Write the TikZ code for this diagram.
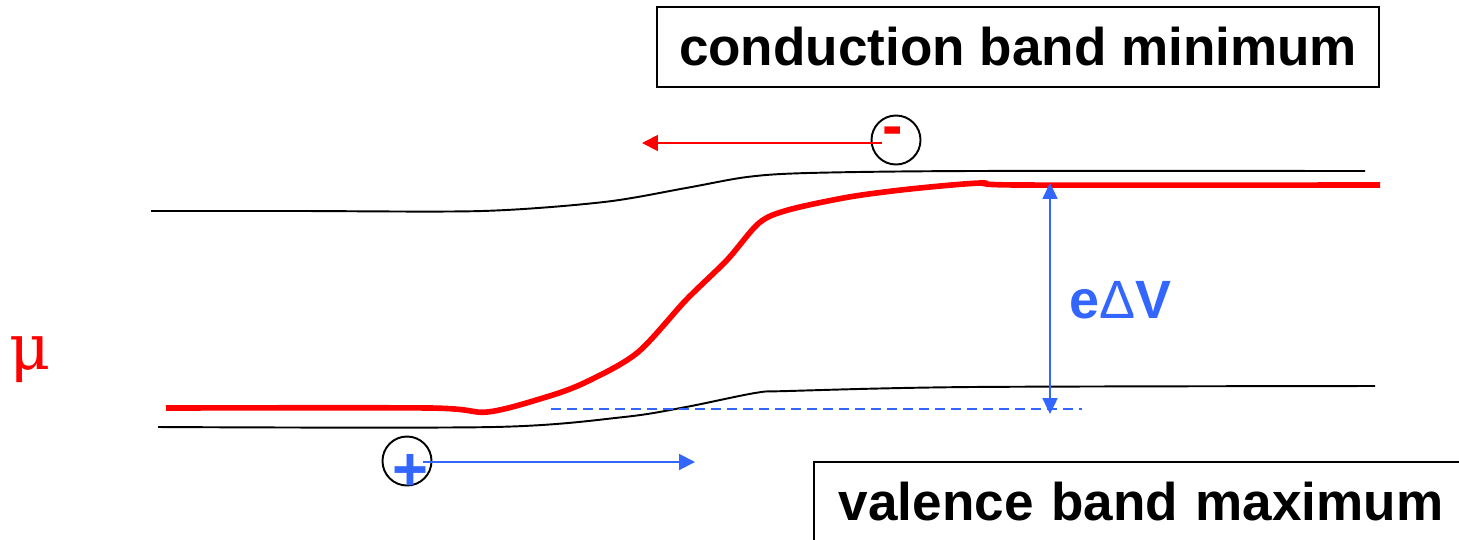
\documentclass[tikz,border=0pt]{standalone}
\usepackage{fontspec}
\setmainfont{Liberation Sans}
\newfontfamily\greekfont{DejaVu Serif}
\usetikzlibrary{arrows.meta}
\definecolor{fermired}{HTML}{FF0000}
\definecolor{driftblue}{HTML}{3366FF}
\tikzset{
  bandline/.style={draw=black,line width=1.1pt},
  fermiline/.style={draw=fermired,line width=3.2pt},
  bandlabel/.style={draw=black,line width=1.1pt,font=\fontsize{30.2}{36}\selectfont\bfseries},
  carrier/.style={draw=black,circle,line width=1.1pt,minimum size=27.9pt,inner sep=0pt},
  signlabel/.style={font=\fontsize{35}{40}\selectfont\bfseries,inner sep=0pt},
  driftarrow/.style={-{Triangle[length=9pt,width=9pt]},line width=1.1pt},
  gaparrow/.style={{Triangle[length=9pt,width=8.5pt]}-{Triangle[length=9pt,width=8.5pt]},line width=1.1pt,draw=driftblue}
}

\begin{document}
\begin{tikzpicture}[x=0.02cm,y=-0.02cm]
\useasboundingbox (0,0) rectangle (1459,539);
% band edges and chemical potential
\draw[bandline] plot[smooth,tension=0.5] coordinates {(151,211) (300,211) (482,211) (604,202) (686,188) (747,177) (808,173) (971,171) (1365,171)};
\draw[bandline] plot[smooth,tension=0.5] coordinates {(158,427) (494,427) (624,417) (686,407) (755,393) (788,391) (971,387) (1375,386)};
\draw[fermiline] plot[smooth,tension=0.5] coordinates {(166,408) (430,408) (487,412) (543,398) (584,383) (637,353) (686,300) (727,260) (759,223) (788,210) (849,197) (910,189) (980,183) (1020,185) (1380,185)};
\node[text=fermired,font=\greekfont\fontsize{36}{40}\selectfont] (mu) at (30,360) {μ};

% labels
\node[bandlabel,minimum width=14.46cm,minimum height=1.6cm,inner sep=0pt] (cbm) at (1018,47) {conduction band minimum};
\node[bandlabel,anchor=base west,text width=13.4cm,align=left,inner xsep=0.5cm,inner ysep=0.4cm] (vbm) at (813,520) {valence band maximum};

% potential step
\coordinate (steptop) at (1050,183);
\coordinate (stepbottom) at (1050,414);
\coordinate (dashstart) at (551,409);
\coordinate (dashend) at (1082,409);
\draw[driftblue,line width=1.1pt,dash pattern=on 5.7pt off 3.4pt] (dashstart) -- (dashend);
\draw[gaparrow] (steptop) -- (stepbottom);
\node[text=driftblue,font=\fontsize{30.7}{36}\selectfont\bfseries] (dV) at (1120,300) {e{\mdseries Δ}V};

% carriers
\node[carrier] (electron) at (896,140) {};
\node[signlabel,text=fermired] (minus) at (893,137) {-};
\coordinate (electronend) at (642,143);
\draw[driftarrow,draw=fermired,fill=fermired] ([shift={(-14,3)}]electron.center) -- (electronend);

\node[carrier] (hole) at (407,461) {};
\node[signlabel,text=driftblue] (plus) at (410,472) {+};
\coordinate (holeend) at (695,462);
\draw[driftarrow,draw=driftblue,fill=driftblue] ([shift={(16,1)}]hole.center) -- (holeend);
\end{tikzpicture}
\end{document}
